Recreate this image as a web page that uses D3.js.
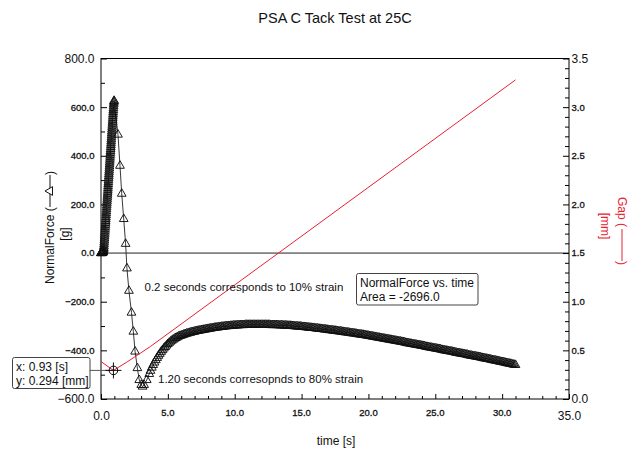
<!DOCTYPE html>
<html>
<head>
<meta charset="utf-8">
<script src="https://cdn.jsdelivr.net/npm/d3@7"></script>
<style>
  html, body { margin: 0; padding: 0; background: #fff; }
  svg { display: block; font-family: "Liberation Sans", Arial, sans-serif; }
</style>
</head>
<body>
<svg id="chart" width="634" height="451"></svg>
<script>
// ---------------- DATA ----------------
const chartTitle = "PSA C Tack Test at 25C";
const xTicksMajor = [0, 5, 10, 15, 20, 25, 30, 35];
const yForceTicksMajor = [-600, -400, -200, 0, 200, 400, 600, 800];
const yGapTicksMajor = [0, 0.5, 1.0, 1.5, 2.0, 2.5, 3.0, 3.5];

// NormalForce: loading ramp (dense sampling)
const riseTime = [
  0.00,0.01,0.02,0.03,0.04,0.05,0.06,0.07,0.08,0.09,
  0.10,0.11,0.12,0.13,0.14,0.15,0.16,0.17,0.18,0.19,
  0.20,0.21,0.22,0.23,0.24,0.25,0.26,0.27,0.28,0.29,
  0.30,0.31,0.32,0.33,0.34,0.35,0.36,0.37,0.38,0.39,
  0.40,0.41,0.42,0.43,0.44,0.45,0.46,0.47,0.48,0.49,
  0.50,0.51,0.52,0.53,0.54,0.55,0.56,0.57,0.58,0.59,
  0.60,0.61,0.62,0.63,0.64,0.65,0.66,0.67,0.68,0.69,
  0.70,0.71,0.72,0.73,0.74,0.75,0.76,0.77,0.78,0.79,
  0.80,0.81,0.82,0.83,0.84,0.85,0.86,0.87,0.88,0.89,
  0.90,0.91,0.92,0.93,0.94,0.95,0.96,0.97,0.98];
const riseForce = [
  0,0,0,1,0,1,1,0,1,2,
  2,2,2,3,3,4,5,7,8,11,
  16,21,28,36,44,52,60,68,76,84,
  92,100,108,116,124,132,140,148,156,164,
  172,180,188,196,204,212,220,228,236,244,
  252,260,268,276,284,292,300,308,316,324,
  332,340,348,356,364,372,380,388,396,404,
  412,420,428,436,444,452,460,468,476,484,
  492,500,508,516,524,532,540,548,556,564,
  572,580,588,596,604,611,618,623,626];

// NormalForce: fast drop (sparse markers)
const dropTime  = [1.27,1.42,1.55,1.70,1.84,1.94,2.09,2.28,2.42,2.55,2.72,2.86,3.01,3.11,3.22,3.42,3.61];
const dropForce = [487,359,244,140,38,-63,-155,-245,-323,-405,-473,-522,-542,-549,-542,-522,-497];

// NormalForce: recovery / tail (dense markers)
const tailTime = [
  3.7,3.8,3.9,
  4.0,4.1,4.2,4.3,4.4,4.5,4.6,4.7,4.8,4.9,
  5.0,5.1,5.2,5.3,5.4,5.5,5.6,5.7,5.8,5.9,
  6.0,6.1,6.2,6.3,6.4,6.5,6.6,6.7,6.8,6.9,
  7.0,7.1,7.2,7.3,7.4,7.5,7.6,7.7,7.8,7.9,
  8.0,8.1,8.2,8.3,8.4,8.5,8.6,8.7,8.8,8.9,
  9.0,9.1,9.2,9.3,9.4,9.5,9.6,9.7,9.8,9.9,
  10.0,10.1,10.2,10.3,10.4,10.5,10.6,10.7,10.8,10.9,
  11.0,11.1,11.2,11.3,11.4,11.5,11.6,11.7,11.8,11.9,
  12.0,12.1,12.2,12.3,12.4,12.5,12.6,12.7,12.8,12.9,
  13.0,13.1,13.2,13.3,13.4,13.5,13.6,13.7,13.8,13.9,
  14.0,14.1,14.2,14.3,14.4,14.5,14.6,14.7,14.8,14.9,
  15.0,15.1,15.2,15.3,15.4,15.5,15.6,15.7,15.8,15.9,
  16.0,16.1,16.2,16.3,16.4,16.5,16.6,16.7,16.8,16.9,
  17.0,17.1,17.2,17.3,17.4,17.5,17.6,17.7,17.8,17.9,
  18.0,18.1,18.2,18.3,18.4,18.5,18.6,18.7,18.8,18.9,
  19.0,19.1,19.2,19.3,19.4,19.5,19.6,19.7,19.8,19.9,
  20.0,20.1,20.2,20.3,20.4,20.5,20.6,20.7,20.8,20.9,
  21.0,21.1,21.2,21.3,21.4,21.5,21.6,21.7,21.8,21.9,
  22.0,22.1,22.2,22.3,22.4,22.5,22.6,22.7,22.8,22.9,
  23.0,23.1,23.2,23.3,23.4,23.5,23.6,23.7,23.8,23.9,
  24.0,24.1,24.2,24.3,24.4,24.5,24.6,24.7,24.8,24.9,
  25.0,25.1,25.2,25.3,25.4,25.5,25.6,25.7,25.8,25.9,
  26.0,26.1,26.2,26.3,26.4,26.5,26.6,26.7,26.8,26.9,
  27.0,27.1,27.2,27.3,27.4,27.5,27.6,27.7,27.8,27.9,
  28.0,28.1,28.2,28.3,28.4,28.5,28.6,28.7,28.8,28.9,
  29.0,29.1,29.2,29.3,29.4,29.5,29.6,29.7,29.8,29.9,
  30.0,30.1,30.2,30.3,30.4,30.5,30.6,30.7,30.8,30.9,
  31.0];
const tailForce = [
  -484,-471,-460,
  -450,-440,-431,-422,-414,-406,-399,-392,-386,-380,
  -374,-369,-364,-360,-356,-352,-349,-346,-343,-341,
  -339,-337,-335,-333,-331,-330,-328,-327,-325,-324,
  -323,-321,-320,-319,-318,-317,-316,-315,-314,-313,
  -312,-311,-310,-309,-308,-307,-306,-306,-305,-304,
  -303,-303,-302,-301,-301,-300,-300,-299,-299,-298,
  -298,-297,-297,-297,-296,-296,-296,-296,-295,-295,
  -295,-295,-295,-295,-295,-295,-295,-295,-295,-295,
  -295,-295,-295,-295,-295,-295,-295,-296,-296,-296,
  -296,-296,-296,-297,-297,-297,-297,-298,-298,-298,
  -299,-299,-299,-300,-300,-301,-301,-302,-302,-302,
  -303,-304,-304,-305,-305,-306,-307,-307,-308,-308,
  -309,-310,-310,-311,-312,-312,-313,-314,-314,-315,
  -316,-317,-317,-318,-319,-319,-320,-321,-322,-322,
  -323,-324,-325,-326,-326,-327,-328,-329,-330,-330,
  -331,-332,-333,-334,-335,-335,-336,-337,-338,-339,
  -340,-341,-342,-343,-344,-345,-346,-347,-348,-349,
  -350,-351,-352,-353,-354,-355,-356,-357,-358,-359,
  -360,-361,-362,-363,-364,-365,-366,-367,-369,-370,
  -371,-372,-373,-374,-375,-376,-377,-378,-379,-380,
  -381,-382,-383,-385,-386,-387,-388,-389,-390,-391,
  -392,-393,-394,-395,-396,-398,-399,-400,-401,-402,
  -403,-404,-405,-406,-407,-409,-410,-411,-412,-413,
  -414,-415,-416,-417,-418,-420,-421,-422,-423,-424,
  -425,-426,-427,-428,-429,-431,-432,-433,-434,-435,
  -436,-437,-439,-440,-441,-442,-443,-444,-446,-447,
  -448,-449,-450,-452,-453,-454,-455,-456,-458,-459,
  -460];

// Gap (right axis, mm)
const gapTime  = [0, 0.93, 2.0, 3.7, 31.0];
const gapValue = [0.385, 0.294, 0.385, 0.54, 3.28];

// Cursor readout
const cursorTime = 0.93, cursorGap = 0.294;
const cursorLines = ["x: 0.93 [s]", "y: 0.294 [mm]"];
const areaLines = ["NormalForce vs. time", "Area = -2696.0"];
const note1 = "0.2 seconds corresponds to 10% strain";
const note2 = "1.20 seconds corresopnds to 80% strain";

// ---------------- DRAW ----------------
const svg = d3.select("#chart");
const L = 101, R = 569, T = 58.5, B = 399;
const red = "#e8212f";

const x = d3.scaleLinear().domain([0, 35]).range([L, R]);
const yF = d3.scaleLinear().domain([-600, 800]).range([B, T]);
const yG = d3.scaleLinear().domain([0, 3.5]).range([B, T]);

const force = [];
riseTime.forEach((t, i) => force.push({t, f: riseForce[i]}));
dropTime.forEach((t, i) => force.push({t, f: dropForce[i]}));
tailTime.forEach((t, i) => force.push({t, f: tailForce[i]}));
const gap = gapTime.map((t, i) => ({t, g: gapValue[i]}));

// Title
svg.append("text").attr("x", 335).attr("y", 23).attr("text-anchor", "middle")
  .attr("font-size", 14.5).attr("fill", "#111").text(chartTitle);

// zero line
svg.append("line").attr("x1", L).attr("x2", R).attr("y1", yF(0)).attr("y2", yF(0))
  .attr("stroke", "#222").attr("stroke-width", 1);

// frame
svg.append("rect").attr("x", L).attr("y", T).attr("width", R - L).attr("height", B - T)
  .attr("fill", "none").attr("stroke", "#000").attr("stroke-width", 1);

// axes ticks (inside)
const minorX = d3.range(0, 36, 1).filter(v => v % 5 !== 0);
const minorYF = d3.range(-600, 801, 100).filter(v => v % 200 !== 0);
const minorYG = d3.range(0, 36, 1).map(v => v / 10).filter(v => Math.round(v * 10) % 5 !== 0);

function styleAxis(g) { g.select(".domain").remove(); g.selectAll("line").attr("stroke", "#000"); g.selectAll("text").remove(); }

svg.append("g").attr("transform", `translate(0,${B})`)
  .call(d3.axisBottom(x).tickValues(xTicksMajor).tickSize(-5)).call(styleAxis);
svg.append("g").attr("transform", `translate(0,${B})`)
  .call(d3.axisBottom(x).tickValues(minorX).tickSize(-3)).call(styleAxis);
svg.append("g").attr("transform", `translate(${L},0)`)
  .call(d3.axisLeft(yF).tickValues(yForceTicksMajor).tickSize(-6)).call(styleAxis);
svg.append("g").attr("transform", `translate(${L},0)`)
  .call(d3.axisLeft(yF).tickValues(minorYF).tickSize(-4)).call(styleAxis);
svg.append("g").attr("transform", `translate(${R},0)`)
  .call(d3.axisRight(yG).tickValues(yGapTicksMajor).tickSize(-6)).call(styleAxis);
svg.append("g").attr("transform", `translate(${R},0)`)
  .call(d3.axisRight(yG).tickValues(minorYG).tickSize(-4)).call(styleAxis);

const fmt = d3.format(".1f");
// x labels
xTicksMajor.forEach((v, i) => {
  const end = (i === 0 || i === xTicksMajor.length - 1);
  svg.append("text").attr("x", x(v) + (end ? 0.5 : 0)).attr("y", end ? 420 : 416)
    .attr("text-anchor", "middle").attr("font-size", end ? 12 : 9.5)
    .attr("fill", "#111").attr("stroke", end ? "none" : "#111").attr("stroke-width", end ? 0 : 0.3)
    .text(fmt(v));
});
// left labels
yForceTicksMajor.forEach((v, i) => {
  const end = (i === 0 || i === yForceTicksMajor.length - 1);
  svg.append("text").attr("x", 94.5).attr("y", yF(v)).attr("dy", "0.36em")
    .attr("text-anchor", "end").attr("font-size", end ? 12 : 9.5)
    .attr("fill", "#111").attr("stroke", end ? "none" : "#111").attr("stroke-width", end ? 0 : 0.3)
    .text(fmt(v));
});
// right labels
yGapTicksMajor.forEach((v, i) => {
  const end = (i === 0 || i === yGapTicksMajor.length - 1);
  svg.append("text").attr("x", 571.5).attr("y", yG(v)).attr("dy", "0.36em")
    .attr("text-anchor", "start").attr("font-size", end ? 12 : 9.5)
    .attr("fill", "#111").attr("stroke", end ? "none" : "#111").attr("stroke-width", end ? 0 : 0.3)
    .text(fmt(v));
});

// axis titles
svg.append("text").attr("x", 336).attr("y", 445).attr("text-anchor", "middle")
  .attr("font-size", 12).attr("fill", "#111").text("time [s]");

const tri = d3.symbol().type(d3.symbolTriangle).size(33);

const lg = svg.append("g").attr("transform", "translate(54,0) rotate(-90)");
lg.append("text").attr("x", -284).attr("y", 0).attr("font-size", 12).attr("fill", "#111").text("NormalForce (");
lg.append("line").attr("x1", -207).attr("x2", -175).attr("y1", -4).attr("y2", -4).attr("stroke", "#111");
lg.append("path").attr("d", tri()).attr("transform", "translate(-191,-4)").attr("fill", "#fff").attr("stroke", "#111");
lg.append("text").attr("x", -175).attr("y", 0).attr("font-size", 12).attr("fill", "#111").text(")");
svg.append("g").attr("transform", "translate(69,0) rotate(-90)")
  .append("text").attr("x", -234).attr("y", 0).attr("text-anchor", "middle")
  .attr("font-size", 12).attr("fill", "#111").text("[g]");

const rg = svg.append("g").attr("transform", "translate(618,0) rotate(90)");
rg.append("text").attr("x", 197).attr("y", 0).attr("font-size", 12).attr("fill", red).text("Gap (");
rg.append("line").attr("x1", 229).attr("x2", 261).attr("y1", -4).attr("y2", -4).attr("stroke", red);
rg.append("text").attr("x", 261).attr("y", 0).attr("font-size", 12).attr("fill", red).text(")");
svg.append("g").attr("transform", "translate(601,0) rotate(90)")
  .append("text").attr("x", 226).attr("y", 0).attr("text-anchor", "middle")
  .attr("font-size", 12).attr("fill", red).text("[mm]");

// NormalForce line + markers
svg.append("path").datum(force)
  .attr("d", d3.line().x(d => x(d.t)).y(d => yF(d.f)))
  .attr("fill", "none").attr("stroke", "#222").attr("stroke-width", 0.9);
svg.append("g").selectAll("path").data(force).join("path")
  .attr("d", tri())
  .attr("transform", d => `translate(${x(d.t)},${yF(d.f)})`)
  .attr("fill", "none").attr("stroke", "#111").attr("stroke-width", 0.95);

// Gap line
svg.append("path").datum(gap)
  .attr("d", d3.line().x(d => x(d.t)).y(d => yG(d.g)))
  .attr("fill", "none").attr("stroke", red).attr("stroke-width", 1);

// notes
svg.append("text").attr("x", 144.5).attr("y", 291).attr("font-size", 11.5).attr("fill", "#111").text(note1);
svg.append("text").attr("x", 158).attr("y", 382.5).attr("font-size", 11.5).attr("fill", "#111").text(note2);

// area box
svg.append("rect").attr("x", 356.5).attr("y", 273.5).attr("width", 121.5).attr("height", 31.5)
  .attr("rx", 2).attr("fill", "#fff").attr("stroke", "#444");
areaLines.forEach((s, i) => svg.append("text").attr("x", 360).attr("y", 287 + i * 13.5)
  .attr("font-size", 12).attr("fill", "#111").text(s));

// cursor
const cx = x(cursorTime), cy = yG(cursorGap);
svg.append("line").attr("x1", 90).attr("x2", cx).attr("y1", cy).attr("y2", cy).attr("stroke", "#555");
svg.append("circle").attr("cx", cx).attr("cy", cy).attr("r", 4.3).attr("fill", "none").attr("stroke", "#111");
svg.append("line").attr("x1", cx - 8).attr("x2", cx + 8).attr("y1", cy).attr("y2", cy).attr("stroke", "#111");
svg.append("line").attr("x1", cx).attr("x2", cx).attr("y1", cy - 8).attr("y2", cy + 8).attr("stroke", "#111");
svg.append("rect").attr("x", 12.5).attr("y", 357.5).attr("width", 77.5).attr("height", 31)
  .attr("rx", 2).attr("fill", "#fff").attr("stroke", "#444");
cursorLines.forEach((s, i) => svg.append("text").attr("x", 16).attr("y", 370.5 + i * 14)
  .attr("font-size", 12).attr("fill", "#111").text(s));
</script>
</body>
</html>
